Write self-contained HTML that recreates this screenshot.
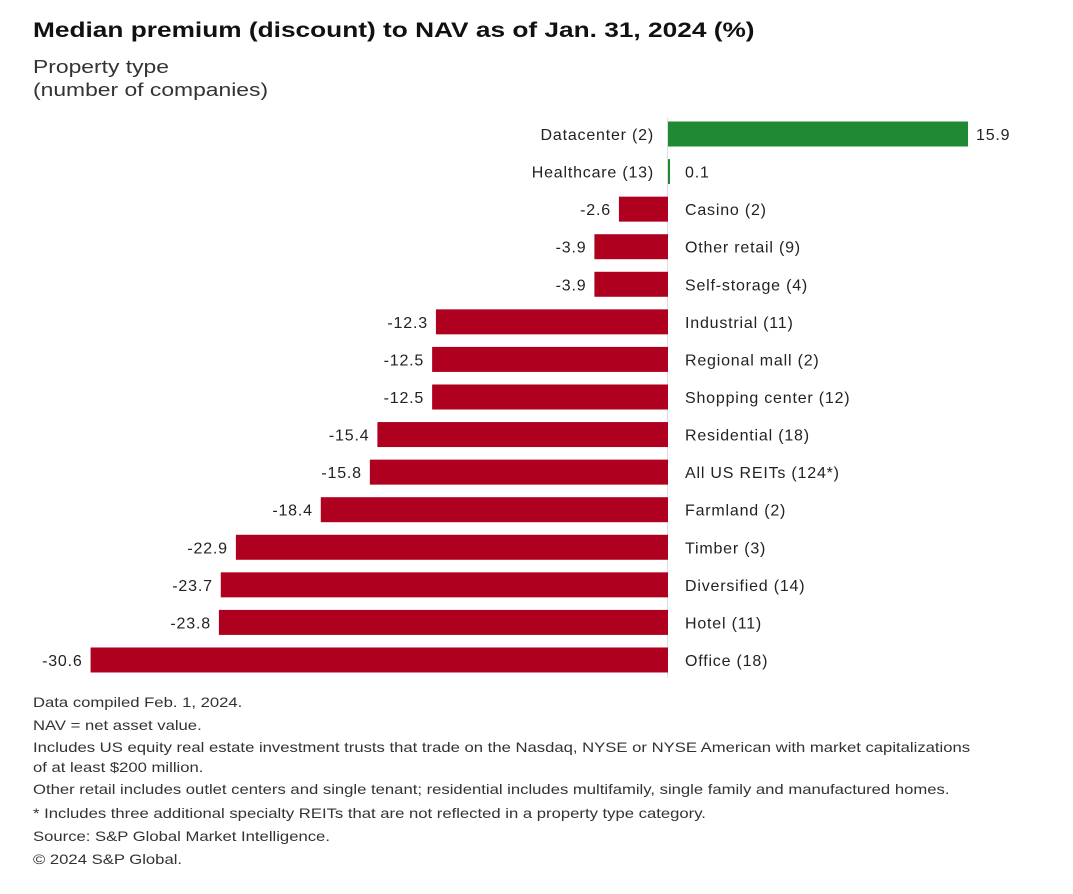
<!DOCTYPE html>
<html><head><meta charset="utf-8"><style>
body{margin:0;background:#fff;width:1073px;height:894px;overflow:hidden;font-family:"Liberation Sans",sans-serif;color:#222}
.t{position:absolute;white-space:nowrap;transform-origin:0 0}
.f{position:absolute;left:33px;white-space:nowrap;font-size:14px;color:#333;transform:scaleX(1.19);transform-origin:0 0}
</style></head><body>
<div class="t" style="left:33px;top:19px;font-size:21px;font-weight:bold;color:#111;transform:scaleX(1.25)">Median premium (discount) to NAV as of Jan. 31, 2024 (%)</div>
<div class="t" style="left:33px;top:56px;font-size:18px;line-height:23px;color:#333;transform:scaleX(1.27)">Property type<br>(number of companies)</div>
<svg id="c" width="1073" height="894" style="position:absolute;left:0;top:0"></svg>
<div>
<div class="f" style="top:694px">Data compiled Feb. 1, 2024.</div>
<div class="f" style="top:717px">NAV = net asset value.</div>
<div class="f" style="top:739px">Includes US equity real estate investment trusts that trade on the Nasdaq, NYSE or NYSE American with market capitalizations</div>
<div class="f" style="top:759px">of at least $200 million.</div>
<div class="f" style="top:781px">Other retail includes outlet centers and single tenant; residential includes multifamily, single family and manufactured homes.</div>
<div class="f" style="top:805px">* Includes three additional specialty REITs that are not reflected in a property type category.</div>
<div class="f" style="top:828px">Source: S&amp;P Global Market Intelligence.</div>
<div class="f" style="top:851px">© 2024 S&amp;P Global.</div>
</div>
<script>
const categories=["Datacenter (2)","Healthcare (13)","Casino (2)","Other retail (9)","Self-storage (4)","Industrial (11)","Regional mall (2)","Shopping center (12)","Residential (18)","All US REITs (124*)","Farmland (2)","Timber (3)","Diversified (14)","Hotel (11)","Office (18)"];
const values=[15.9,0.1,-2.6,-3.9,-3.9,-12.3,-12.5,-12.5,-15.4,-15.8,-18.4,-22.9,-23.7,-23.8,-30.6];
const labels=["15.9","0.1","-2.6","-3.9","-3.9","-12.3","-12.5","-12.5","-15.4","-15.8","-18.4","-22.9","-23.7","-23.8","-30.6"];
const svg=document.getElementById('c');const NS='http://www.w3.org/2000/svg';
const x0=668,scale=18.87,y0=134,step=37.57,bh=25;
const xs=v=>x0+v*scale, ys=i=>y0+i*step;
function mk(t,a){const e=document.createElementNS(NS,t);for(const k in a)e.setAttribute(k,a[k]);svg.appendChild(e);return e;}
const ax=mk('line',{x1:x0-0.5,x2:x0-0.5,y1:118,y2:678,stroke:'#ddd','stroke-width':1});


values.forEach((v,i)=>{
 const y=ys(i),a=xs(Math.min(0,v)),b=xs(Math.max(0,v));
 const r=mk('rect',{x:a,y:y-bh/2,width:Math.max(b-a,2),height:bh,fill:v>=0?'#1f8a33':'#b0001f'});
 
 
 const pos=v>=0;
 const cl=mk('text',{x:pos?x0-14:x0+17,y:y+6,'font-size':16,'letter-spacing':0.8,fill:'#222','text-anchor':pos?'end':'start','font-family':'Liberation Sans'});
 cl.textContent=categories[i];
 
 
 const vl=mk('text',{x:pos?Math.max(xs(v)+8,x0+17):xs(v)-8,y:y+6,'font-size':16,'letter-spacing':0.8,fill:'#222','text-anchor':pos?'start':'end','font-family':'Liberation Sans'});
 vl.textContent=labels[i];
 
 
});
</script>
</body></html>
